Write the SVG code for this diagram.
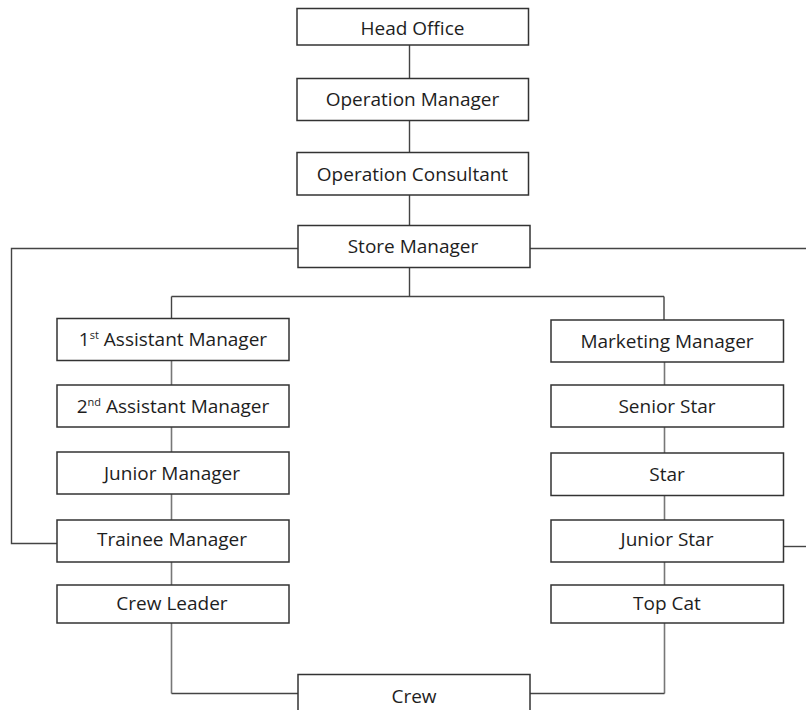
<svg xmlns="http://www.w3.org/2000/svg" width="806" height="710" viewBox="0 0 806 710">
<style>
.box{fill:#fff;stroke:#333;stroke-width:1.5}
.t{font-family:"Open Sans","Liberation Sans",sans-serif;font-size:19px;fill:#1e1e1e;text-anchor:middle}
.sup{font-size:11px}
.c{fill:none;stroke:#444;stroke-width:1.4}
.g{fill:none;stroke:#777;stroke-width:1.6}
</style>
<rect width="806" height="710" fill="#fff"/>
<g id="connectors">
<path class="c" d="M409.5 45V78 M409.5 121V152 M409.5 195V225"/>
<path class="c" d="M298 248.5H11.5V543.5H57"/>
<path class="c" d="M530 248.5H806"/>
<path class="c" d="M409.5 268V296.5 M171.5 296.5H664 M171.5 296.5V318 M664 296.5V320"/>
<path class="g" d="M171.5 360V385 M171.5 427V452 M171.5 494V520 M171.5 562V585"/>
<path class="g" d="M664.5 362V385 M664.5 427V453 M664.5 496V520 M664.5 562V585"/>
<path class="g" d="M171.5 623V693.5"/>
<path class="c" d="M171.5 693.5H298"/>
<path class="g" d="M664.5 623V693.5"/>
<path class="c" d="M664.5 693.5H530"/>
<path class="c" d="M783.5 546.5H806"/>
</g>
<g id="head-office"><rect class="box" x="297" y="8.5" width="231.5" height="36.5"/><text class="t" x="412.5" y="34.5">Head Office</text></g>
<g id="operation-manager"><rect class="box" x="297" y="78.5" width="231.5" height="42"/><text class="t" x="412.5" y="106">Operation Manager</text></g>
<g id="operation-consultant"><rect class="box" x="297" y="152.5" width="231.5" height="42.5"/><text class="t" x="412.5" y="180.5">Operation Consultant</text></g>
<g id="store-manager"><rect class="box" x="298" y="225.5" width="232" height="42"/><text class="t" x="413" y="253">Store Manager</text></g>
<g id="first-assistant-manager"><rect class="box" x="57" y="318.5" width="232" height="42"/><text class="t" x="173" y="346">1<tspan class="sup" dy="-7">st</tspan><tspan dy="7"> Assistant Manager</tspan></text></g>
<g id="second-assistant-manager"><rect class="box" x="57" y="385" width="232" height="42"/><text class="t" x="173" y="412.5">2<tspan class="sup" dy="-7">nd</tspan><tspan dy="7"> Assistant Manager</tspan></text></g>
<g id="junior-manager"><rect class="box" x="57" y="452" width="232" height="42"/><text class="t" x="172" y="479.5">Junior Manager</text></g>
<g id="trainee-manager"><rect class="box" x="57" y="520" width="232" height="42"/><text class="t" x="172" y="546">Trainee Manager</text></g>
<g id="crew-leader"><rect class="box" x="57" y="585" width="232" height="38"/><text class="t" x="172" y="610">Crew Leader</text></g>
<g id="marketing-manager"><rect class="box" x="551" y="320" width="232.5" height="42"/><text class="t" x="667" y="347.5">Marketing Manager</text></g>
<g id="senior-star"><rect class="box" x="551" y="385" width="232.5" height="42"/><text class="t" x="667" y="412.5">Senior Star</text></g>
<g id="star"><rect class="box" x="551" y="453" width="232.5" height="42.5"/><text class="t" x="667" y="481">Star</text></g>
<g id="junior-star"><rect class="box" x="551" y="520" width="232.5" height="42"/><text class="t" x="667" y="546">Junior Star</text></g>
<g id="top-cat"><rect class="box" x="551" y="585" width="232.5" height="38"/><text class="t" x="667" y="610">Top Cat</text></g>
<g id="crew"><rect class="box" x="298" y="674.5" width="232" height="50"/><text class="t" x="414" y="702.5">Crew</text></g>
</svg>
